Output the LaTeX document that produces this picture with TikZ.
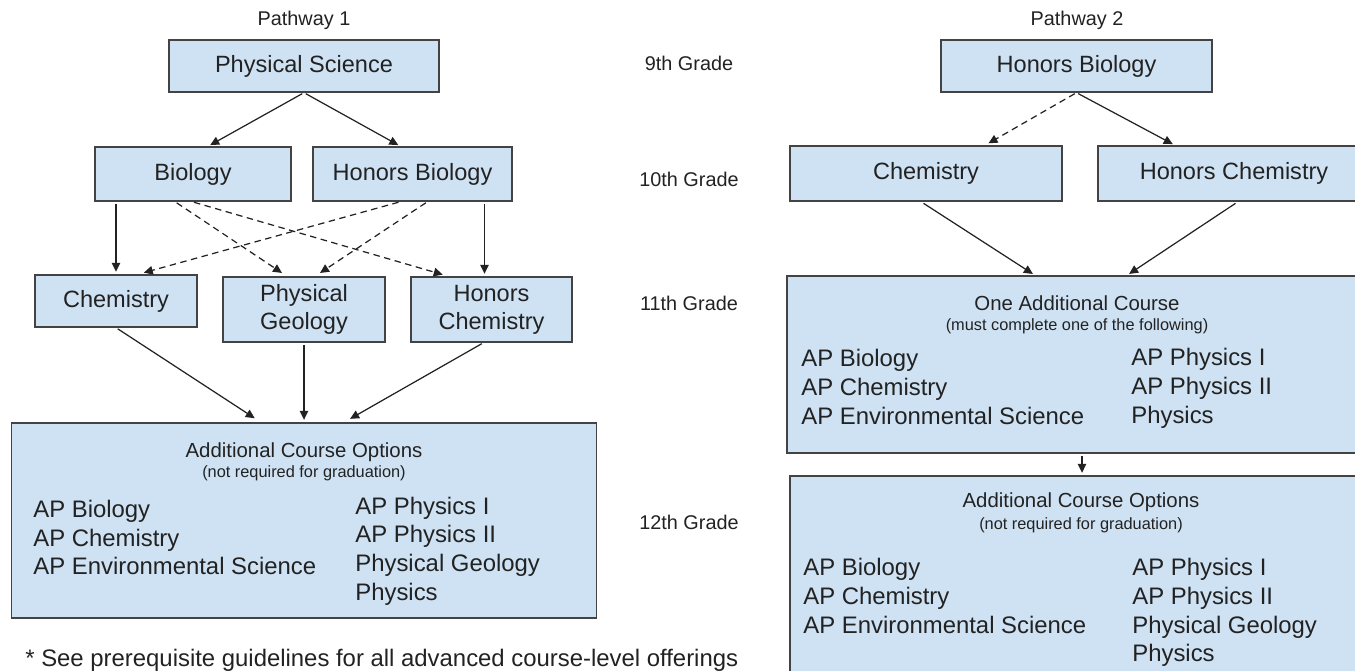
\documentclass[tikz,border=0pt]{standalone}
\usepackage{fontspec}
\setmainfont{Liberation Sans}
\usetikzlibrary{arrows.meta,calc}
\definecolor{boxfill}{RGB}{207,226,243}
\definecolor{boxline}{RGB}{67,67,67}
\definecolor{ink}{RGB}{34,34,34}
\tikzset {>={Triangle[length=1.8mm,width=1.7mm]}}

\begin{document}
\begin{tikzpicture}[x=0.02cm,y=-0.02cm,
  course/.style={draw=boxline,fill=boxfill,line width=0.8pt,inner sep=0pt,align=center,text=ink,font=\fontsize{13.4pt}{15.9pt}\selectfont},
  head/.style={text=ink,inner sep=0pt,font=\fontsize{11.6pt}{13pt}\selectfont},
  note/.style={text=ink,inner sep=0pt,font=\fontsize{9.3pt}{11pt}\selectfont},
  item/.style={text=ink,anchor=base west,inner sep=0pt,font=\fontsize{13.6pt}{16pt}\selectfont},
  grade/.style={text=ink,inner sep=0pt,font=\fontsize{11.3pt}{13pt}\selectfont},
  link/.style={->,draw=ink,line width=0.7pt,shorten >=0.5mm,shorten <=0.4mm},
  maybe/.style={link,dash pattern=on 1.3mm off 0.9mm,shorten >=1.2mm}]
\useasboundingbox (0,0) rectangle (1355,671);
\clip (0,0) rectangle (1355,671);

% pathway 1
\node[grade] (p1) at (304,20) {Pathway 1};
\node[course,minimum width=54mm,minimum height=10.4mm] (ps) at (304,66) {Physical Science};
\node[course,minimum width=39.2mm,minimum height=10.8mm] (bio) at (193,174) {Biology};
\node[course,minimum width=39.8mm,minimum height=10.8mm] (hbio) at (412.5,174) {Honors Biology};
\node[course,minimum width=32.4mm,minimum height=10.4mm] (chem) at (116,301) {Chemistry};
\node[course,minimum width=32.4mm,minimum height=13mm] (pgeo) at (304,309.5) {Physical\\Geology};
\node[course,minimum width=32.2mm,minimum height=13mm] (hchem) at (491.5,309.5) {Honors\\Chemistry};
\node[course,minimum width=117mm,minimum height=39mm] (opt1) at (304,520.5) {};
\node[head] (opt1t) at (304,452) {Additional Course Options};
\node[note] (opt1s) at (304,473) {(not required for graduation)};
\foreach \t [count=\i] in {AP Biology,AP Chemistry,AP Environmental Science}
  \node[item] (opt1l\i) at (33,{488.5+28.8*\i}) {\t};
\foreach \t [count=\i] in {AP Physics I,AP Physics II,Physical Geology,Physics}
  \node[item] (opt1r\i) at (355,{485.3+28.8*\i}) {\t};
\node[item] (foot) at (25,666) {* See prerequisite guidelines for all advanced course-level offerings};

\draw[link] (ps.south) -- ($(bio.north)+(15,0)$);
\draw[link] (ps.south) -- ($(hbio.north)+(-12,0)$);
\draw[link] (bio.south -| chem.north) -- (chem.north);
\draw[link] ($(hbio.south)+(72,0)$) -- ($(hchem.north)+(-7,0)$);
\draw[maybe] ($(bio.south)+(-18,0)$) -- ($(pgeo.north)+(-17,0)$);
\draw[maybe] ($(bio.south)+(-1,0)$) -- ($(hchem.north)+(-43,0)$);
\draw[maybe] ($(hbio.south)+(-12,0)$) -- ($(chem.north)+(22,0)$);
\draw[maybe] ($(hbio.south)+(15,0)$) -- ($(pgeo.north)+(11,0)$);
\draw[link,shorten >=1.5mm] (chem.south) -- ($(opt1.north)+(-43,0)$);
\draw[link] (pgeo.south) -- (opt1.north);
\draw[link,shorten >=1.4mm] ($(hchem.south)+(-8,0)$) -- ($(opt1.north)+(40,0)$);

% grades
\foreach \g/\y [count=\i] in {9th/63,10th/179,11th/303,12th/522}
  \node[grade] (gr\i) at (689,\y) {\g\ Grade};

% pathway 2
\node[grade] (p2) at (1077,20) {Pathway 2};
\node[course,minimum width=54.2mm,minimum height=10.4mm] (hb2) at (1076.5,66) {Honors Biology};
\node[course,minimum width=54.4mm,minimum height=11mm] (chem2) at (926,173.5) {Chemistry};
\node[course,minimum width=54.4mm,minimum height=11mm] (hc2) at (1234,173.5) {Honors Chemistry};
\node[course,minimum width=116mm,minimum height=35.4mm] (one) at (1077,364.5) {};
\node[head] (onet) at (1077,303) {One Additional Course};
\node[note] (ones) at (1077,326) {(must complete one of the following)};
\foreach \t [count=\i] in {AP Biology,AP Chemistry,AP Environmental Science}
  \node[item] (onel\i) at (801,{337.7+28.8*\i}) {\t};
\foreach \t [count=\i] in {AP Physics I,AP Physics II,Physics}
  \node[item] (oner\i) at (1131,{336.7+28.8*\i}) {\t};
\node[course,minimum width=116.4mm,minimum height=42.8mm] (opt2) at (1081,583) {};
\node[head] (opt2t) at (1081,502) {Additional Course Options};
\node[note] (opt2s) at (1081,525) {(not required for graduation)};
\foreach \t [count=\i] in {AP Biology,AP Chemistry,AP Environmental Science}
  \node[item] (opt2l\i) at (803,{546.7+28.8*\i}) {\t};
\foreach \t [count=\i] in {AP Physics I,AP Physics II,Physical Geology,Physics}
  \node[item] (opt2r\i) at (1132,{546.7+28.8*\i}) {\t};

\draw[maybe,shorten >=0.8mm] (hb2.south) -- ($(chem2.north)+(59,0)$);
\draw[link] (hb2.south) -- ($(hc2.north)+(-59,0)$);
\draw[link,shorten <=0.6mm] ($(chem2.south)+(-5,0)$) -- ($(one.north)+(-42,0)$);
\draw[link,shorten <=0.6mm] ($(hc2.south)+(4,0)$) -- ($(one.north)+(50,0)$);
\draw[link] ($(one.south)+(5,0)$) -- ($(opt2.north)+(1,0)$);
\end{tikzpicture}
\end{document}
